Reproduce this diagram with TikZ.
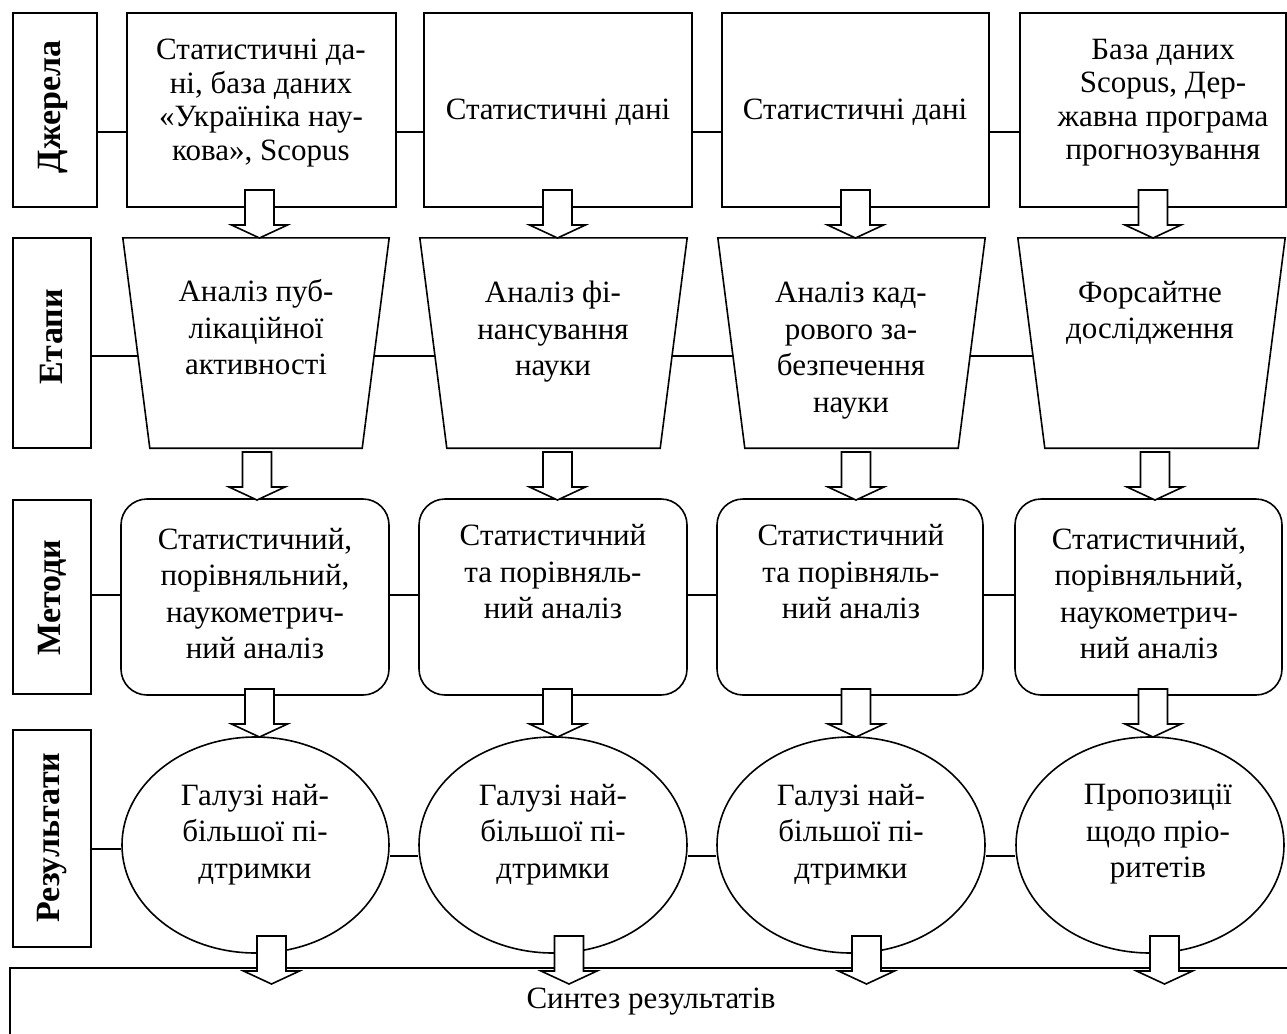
\documentclass[tikz,border=0pt]{standalone}
\usepackage{fontspec}
\setmainfont{Liberation Serif}
\usetikzlibrary{shapes.geometric}
\tikzset{
  shp/.style={draw, line width=1.6pt, inner sep=0pt, fill=white},
  lblbox/.style={shp, rectangle, minimum height=#1},
  srcbox/.style={shp, rectangle, minimum width=#1, minimum height=194pt},
  stagebox/.style={rectangle, inner sep=0pt, minimum width=#1, minimum height=210pt},
  methbox/.style={shp, rectangle, rounded corners=26pt, minimum width=#1, minimum height=196pt},
  resbox/.style={shp, ellipse, minimum width=#1, minimum height=216pt},
  txt/.style={align=center, inner sep=0pt, yshift=-5pt, font=\fontsize{31}{36.5}\selectfont,
    execute at begin node=\strut, execute at end node=\strut},
  txtA/.style={txt, font=\fontsize{31}{33.5}\selectfont},
  lbltxt/.style={inner sep=0pt, rotate=90, font=\fontsize{34}{36}\selectfont\bfseries},
  conn/.style={line width=1.6pt},
  trapline/.style={line width=1.6pt, line join=miter},
  barrow/.pic={\draw[line width=1.6pt, fill=white, line join=miter]
    (-14.5,0) -- (-14.5,35) -- (-28,35) -- (0,48) -- (28,35) -- (14.5,35) -- (14.5,0) -- cycle;}
}
\newcommand{\trapdraw}[1]{\draw[trapline] (#1.north west) -- (#1.north east)
  -- ([xshift=-27pt]#1.south east) -- ([xshift=27pt]#1.south west) -- cycle;}
\begin{document}
\begin{tikzpicture}[x=1pt, y=-1pt]
\useasboundingbox (0,0) rectangle (1287,1033);

% row labels
\node[lblbox=194pt, minimum width=84pt] (L1) at (55,110) {};
\node[lblbox=210pt, minimum width=78pt] (L2) at (52,343) {};
\node[lblbox=194pt, minimum width=78pt] (L3) at (52,597) {};
\node[lblbox=217pt, minimum width=78pt] (L4) at (52,838.5) {};
\node[lbltxt] (L1t) at (53,107) {Джерела};
\node[lbltxt] (L2t) at (52,337) {Етапи};
\node[lbltxt] (L3t) at (52,597.5) {Методи};
\node[lbltxt] (L4t) at (52,837.5) {Результати};

% row 1 : sources
\node[srcbox=269pt] (B1) at (261.5,110) {};
\node[srcbox=268pt] (B2) at (558,110) {};
\node[srcbox=267pt] (B3) at (855.5,110) {};
\node[srcbox=266pt] (B4) at (1153,110) {};
\node[txtA] (B1t) at (261,100) {Статистичні да-\\ні, база даних\\«Україніка нау-\\кова», Scopus};
\node[txtA] (B2t) at (558,108) {Статистичні дані};
\node[txtA] (B3t) at (855,108) {Статистичні дані};
\node[txtA] (B4t) at (1163,99.5) {База даних\\Scopus, Дер-\\жавна програма\\прогнозування};

% row 2 : stages (inverted trapezoids)
\node[stagebox=266pt] (T1) at (256,343) {};
\node[stagebox=267pt] (T2) at (553.5,343) {};
\node[stagebox=267pt] (T3) at (851.5,343) {};
\node[stagebox=267pt] (T4) at (1151.5,343) {};
\trapdraw{T1}
\trapdraw{T2}
\trapdraw{T3}
\trapdraw{T4}
\node[txt] (T1t) at (256,327.5) {Аналіз пуб-\\лікаційної\\активності};
\node[txt] (T2t) at (553,329) {Аналіз фі-\\нансування\\науки};
\node[txt] (T3t) at (851,347.5) {Аналіз кад-\\рового за-\\безпечення\\науки};
\node[txt] (T4t) at (1150,310.5) {Форсайтне\\дослідження};

% row 3 : methods
\node[methbox=268pt] (M1) at (255,597) {};
\node[methbox=268pt] (M2) at (553,597) {};
\node[methbox=266pt] (M3) at (850,597) {};
\node[methbox=267pt] (M4) at (1148.5,597) {};
\node[txt] (M1t) at (255,594) {Статистичний,\\порівняльний,\\наукометрич-\\ний аналіз};
\node[txt] (M2t) at (553,572) {Статистичний\\та порівняль-\\ний аналіз};
\node[txt] (M3t) at (851,572) {Статистичний\\та порівняль-\\ний аналіз};
\node[txt] (M4t) at (1149,594) {Статистичний,\\порівняльний,\\наукометрич-\\ний аналіз};

% row 4 : results
\node[resbox=267pt] (E1) at (255.5,845) {};
\node[resbox=268pt] (E2) at (553,845) {};
\node[resbox=268pt] (E3) at (851,845) {};
\node[resbox=268pt] (E4) at (1150,845) {};
\node[txt] (E1t) at (255,831.5) {Галузі най-\\більшої пі-\\дтримки};
\node[txt] (E2t) at (553,831.5) {Галузі най-\\більшої пі-\\дтримки};
\node[txt] (E3t) at (851,831.5) {Галузі най-\\більшої пі-\\дтримки};
\node[txt] (E4t) at (1158,831.5) {Пропозиції\\щодо пріо-\\ритетів};

% synthesis box
\node[shp, rectangle, anchor=north west, minimum width=1300pt, minimum height=120pt] (S) at (9,967) {};
\node[txt] (St) at (651,996) {Синтез результатів};

% horizontal connectors
\coordinate (c1) at (0,132);
\coordinate (c2) at (0,356);
\coordinate (c3) at (0,595);
\coordinate (c4) at (0,849);
\coordinate (c5) at (0,856);
\draw[conn] (L1.east |- c1) -- (B1.west |- c1);
\draw[conn] (B1.east |- c1) -- (B2.west |- c1);
\draw[conn] (B2.east |- c1) -- (B3.west |- c1);
\draw[conn] (B3.east |- c1) -- (B4.west |- c1);
\draw[conn] (L2.east |- c2) -- ([xshift=15pt]T1.west |- c2);
\draw[conn] ([xshift=-15pt]T1.east |- c2) -- ([xshift=15pt]T2.west |- c2);
\draw[conn] ([xshift=-15pt]T2.east |- c2) -- ([xshift=15pt]T3.west |- c2);
\draw[conn] ([xshift=-15pt]T3.east |- c2) -- ([xshift=15pt]T4.west |- c2);
\draw[conn] (L3.east |- c3) -- (M1.west |- c3);
\draw[conn] (M1.east |- c3) -- (M2.west |- c3);
\draw[conn] (M2.east |- c3) -- (M3.west |- c3);
\draw[conn] (M3.east |- c3) -- (M4.west |- c3);
\draw[conn] (L4.east |- c4) -- (E1.west |- c4);
\draw[conn] (E1.east |- c5) -- (E2.west |- c5);
\draw[conn] (E2.east |- c5) -- (E3.west |- c5);
\draw[conn] (E3.east |- c5) -- (E4.west |- c5);

% block arrows
\pic (a11) at (259.5,190) {barrow};
\pic (a12) at (557.5,190) {barrow};
\pic (a13) at (855.5,190) {barrow};
\pic (a14) at (1153,190) {barrow};
\pic (a21) at (257,452) {barrow};
\pic (a22) at (557.5,452) {barrow};
\pic (a23) at (856,452) {barrow};
\pic (a24) at (1155,452) {barrow};
\pic (a31) at (259.5,689) {barrow};
\pic (a32) at (557.5,689) {barrow};
\pic (a33) at (856,689) {barrow};
\pic (a34) at (1153,689) {barrow};
\pic (a41) at (271.5,936) {barrow};
\pic (a42) at (569,936) {barrow};
\pic (a43) at (866.5,936) {barrow};
\pic (a44) at (1164.5,936) {barrow};
\end{tikzpicture}
\end{document}
